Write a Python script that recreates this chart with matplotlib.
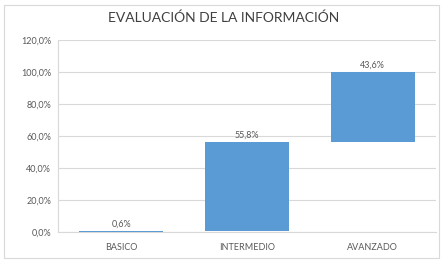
import matplotlib.pyplot as plt
from matplotlib.patches import Rectangle
from matplotlib.ticker import FuncFormatter

# DATA ------------------------------------------------------------------------ #
categories = ["BASICO", "INTERMEDIO", "AVANZADO"]
values = [0.6, 55.8, 43.6]
title = "EVALUACIÓN DE LA INFORMACIÓN"

BAR_COLOR = "#5b9bd5"
TEXT_COLOR = "#595959"
GRID_COLOR = "#d9d9d9"

plt.rcParams["font.family"] = ["Lato", "DejaVu Sans"]


def pct(v: float) -> str:
    return f"{v:.1f}".replace(".", ",") + "%"


def main() -> None:
    fig = plt.figure(figsize=(4.47, 2.70), dpi=100)
    fig.patches.append(Rectangle((0.009, 0.045), 0.973, 0.935, transform=fig.transFigure,
                                 fill=False, edgecolor=GRID_COLOR, linewidth=0.8))
    ax = fig.add_axes([0.130, 0.141, 0.845, 0.711])

    bottoms = []
    running = 0.0
    for v in values:
        bottoms.append(running)
        running += v

    x = list(range(len(categories)))
    ax.bar(x, values, bottom=bottoms, width=0.67, color=BAR_COLOR, zorder=3)
    for xi, b, v in zip(x, bottoms, values):
        ax.text(xi, b + v + 1.5, pct(v), ha="center", va="bottom",
                fontsize=6.5, color=TEXT_COLOR, zorder=4)

    ax.set_xlim(-0.5, 2.5)
    ax.set_ylim(0, 120)
    ax.set_yticks(range(0, 121, 20))
    ax.yaxis.set_major_formatter(FuncFormatter(lambda v, _: pct(v)))
    ax.set_xticks(x)
    ax.set_xticklabels(categories)
    ax.tick_params(axis="both", length=0, labelsize=6.5, labelcolor=TEXT_COLOR, pad=5)
    ax.tick_params(axis="x", pad=8)
    ax.grid(axis="y", color=GRID_COLOR, linewidth=0.8, zorder=0)
    for side in ["top", "right"]:
        ax.spines[side].set_visible(False)
    for side in ["left", "bottom"]:
        ax.spines[side].set_color(GRID_COLOR)
        ax.spines[side].set_linewidth(0.8)

    fig.text(0.5, 0.933, title, ha="center", va="center", fontsize=10, color="#404040")
    fig.savefig("out.png", dpi=100)


if __name__ == "__main__":
    main()
